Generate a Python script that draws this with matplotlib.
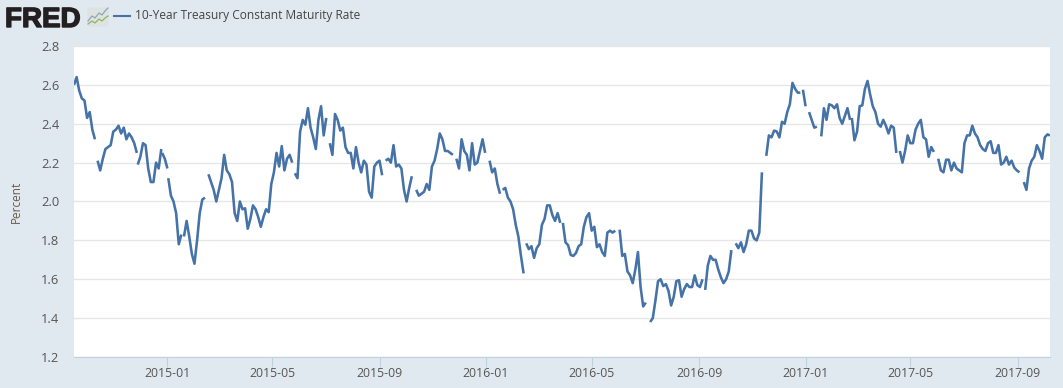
import numpy as np
import pandas as pd
import matplotlib
matplotlib.use("Agg")
import matplotlib.pyplot as plt
import matplotlib.patheffects as pe
from matplotlib.patches import FancyBboxPatch

# each run between market holidays: first date, then a reading every 3 days
seg_starts = ["2014-09-16", "2014-10-13", "2014-11-28", "2014-12-26", "2015-01-02", "2015-01-20",
              "2015-02-17", "2015-05-27", "2015-07-06", "2015-09-08", "2015-10-13", "2015-11-28",
              "2016-01-05", "2016-01-20", "2016-02-16", "2016-03-29", "2016-06-02", "2016-07-07",
              "2016-09-08", "2016-10-13", "2016-11-17", "2016-12-29", "2017-01-05", "2017-01-19",
              "2017-02-23", "2017-04-19", "2017-06-02", "2017-09-08"]
seg_rates = [
    [2.60, 2.64, 2.57, 2.53, 2.52, 2.43, 2.46, 2.37, 2.32],
    [2.21, 2.16, 2.22, 2.27, 2.28, 2.29, 2.36, 2.37, 2.39, 2.35, 2.38, 2.32, 2.35, 2.33, 2.30, 2.25],
    [2.19, 2.23, 2.30, 2.29, 2.17, 2.10, 2.10, 2.20, 2.17, 2.27],
    [2.25, 2.22, 2.17],
    [2.12, 2.03, 2.00, 1.94, 1.78, 1.83],
    [1.82, 1.90, 1.82, 1.73, 1.68, 1.80, 1.94, 2.01, 2.02],
    [2.14, 2.10, 2.06, 2.00, 2.06, 2.12, 2.24, 2.16, 2.14, 2.10, 1.94, 1.90, 2.00, 1.96, 1.965, 1.86,
     1.91, 1.98, 1.96, 1.92, 1.87, 1.92, 1.96, 1.945, 2.09, 2.15, 2.25, 2.18, 2.285, 2.16, 2.22, 2.24, 2.20],
    [2.145, 2.12, 2.36, 2.42, 2.395, 2.48, 2.38, 2.33, 2.27, 2.42, 2.49, 2.34, 2.43],
    [2.30, 2.24, 2.45, 2.42, 2.365, 2.38, 2.28, 2.25, 2.25, 2.17, 2.28, 2.20, 2.15, 2.21, 2.19, 2.05,
     2.02, 2.18, 2.20, 2.21, 2.135],
    [2.21, 2.22, 2.20, 2.29, 2.18, 2.19, 2.17, 2.06, 2.00, 2.07, 2.13],
    [2.06, 2.03, 2.04, 2.05, 2.09, 2.06, 2.18, 2.21, 2.27, 2.35, 2.32, 2.26, 2.26, 2.25, 2.24],
    [2.22, 2.17, 2.32, 2.26, 2.24, 2.16, 2.30, 2.19, 2.20, 2.26, 2.32, 2.25],
    [2.21, 2.15, 2.17, 2.09, 2.04],
    [2.06, 2.07, 2.02, 2.00, 1.96, 1.88, 1.82, 1.72, 1.63],
    [1.785, 1.755, 1.77, 1.71, 1.76, 1.78, 1.88, 1.91, 1.98, 1.98, 1.93, 1.90, 1.94, 1.89],
    [1.89, 1.79, 1.775, 1.725, 1.72, 1.735, 1.77, 1.78, 1.87, 1.92, 1.94, 1.85, 1.87, 1.765, 1.78, 1.74,
     1.72, 1.84, 1.85, 1.84, 1.85],
    [1.855, 1.72, 1.73, 1.64, 1.62, 1.58, 1.65, 1.74, 1.56, 1.46, 1.48],
    [1.38, 1.40, 1.49, 1.59, 1.60, 1.565, 1.575, 1.54, 1.465, 1.51, 1.59, 1.595, 1.51, 1.55, 1.575, 1.56,
     1.56, 1.62, 1.57, 1.56, 1.60],
    [1.545, 1.67, 1.72, 1.70, 1.70, 1.65, 1.61, 1.58, 1.60, 1.64, 1.75],
    [1.785, 1.76, 1.79, 1.74, 1.78, 1.85, 1.85, 1.81, 1.80, 1.84, 2.15],
    [2.235, 2.34, 2.33, 2.365, 2.36, 2.33, 2.41, 2.40, 2.46, 2.50, 2.61, 2.58, 2.56, 2.56],
    [2.575, 2.49],
    [2.46, 2.42, 2.38, 2.385],
    [2.335, 2.48, 2.42, 2.50, 2.495, 2.48, 2.50, 2.43, 2.40, 2.44, 2.48, 2.42],
    [2.43, 2.315, 2.36, 2.49, 2.495, 2.58, 2.62, 2.55, 2.49, 2.46, 2.40, 2.385, 2.42, 2.39, 2.35, 2.39,
     2.38, 2.25],
    [2.26, 2.20, 2.26, 2.34, 2.30, 2.30, 2.37, 2.40, 2.42, 2.33, 2.32, 2.23, 2.28, 2.255],
    [2.22, 2.16, 2.15, 2.215, 2.215, 2.16, 2.20, 2.17, 2.16, 2.15, 2.30, 2.34, 2.34, 2.39, 2.35, 2.33,
     2.29, 2.27, 2.26, 2.30, 2.31, 2.25, 2.25, 2.29, 2.19, 2.20, 2.23, 2.19, 2.21, 2.175, 2.16, 2.15],
    [2.10, 2.06, 2.17, 2.21, 2.23, 2.29, 2.26, 2.22, 2.33, 2.345, 2.34],
]
xticks = ["2015-01", "2015-05", "2015-09", "2016-01", "2016-05", "2016-09", "2017-01", "2017-05", "2017-09"]
yticks = [1.2, 1.4, 1.6, 1.8, 2.0, 2.2, 2.4, 2.6, 2.8]
series_name = "10-Year Treasury Constant Maturity Rate"

W, H = 1063, 388
bg = "#e1e9f0"
blue = "#4572a7"
plt.rcParams["font.family"] = ["Open Sans", "DejaVu Sans"]

fig = plt.figure(figsize=(W / 100, H / 100), dpi=100, facecolor=bg)
ax = fig.add_axes([74 / W, 1 - 357 / H, (1050 - 74) / W, (357 - 46) / H])

for start, vals in zip(seg_starts, seg_rates):
    d = pd.Timestamp(start) + pd.to_timedelta(np.arange(len(vals)) * 3, unit="D")
    ax.plot(d, vals, color=blue, lw=1.85, solid_joinstyle="round", solid_capstyle="butt")

ax.set_xlim(pd.Timestamp("2014-09-16"), pd.Timestamp("2017-10-08"))
ax.set_ylim(1.2, 2.8)
ax.set_xticks([pd.Timestamp(t + "-01") for t in xticks])
ax.set_xticklabels(xticks)
ax.set_yticks(yticks)
ax.set_yticklabels(["%.1f" % v for v in yticks])
ax.grid(axis="y", color="#e6e6e6", lw=1)
ax.set_axisbelow(True)
for s in ["top", "left", "right"]:
    ax.spines[s].set_visible(False)
ax.spines["bottom"].set_color("#c0d0e0")
ax.tick_params(axis="x", length=7.5, width=0.8, color="#c0d0e0", labelsize=8.8, labelcolor="#555555", pad=0)
ax.tick_params(axis="y", length=0, labelsize=9.3, labelcolor="#555555", pad=10.5)
fig.text(16.5 / W, 1 - 202 / H, "Percent", rotation=90, ha="center", va="center", fontsize=8.5, color="#6b5a45")

# header: logo, icon, legend
logo = fig.text(5 / W, 1 - 27 / H, "FRED", fontsize=20, fontweight="bold", family="Liberation Sans",
                color="#231f20", ha="left", va="baseline")
logo.set_path_effects([pe.withStroke(linewidth=1.0, foreground="#231f20")])
icon = fig.add_axes([87 / W, 1 - 27 / H, 22 / W, 20 / H])
icon.set_xlim(0, 22)
icon.set_ylim(0, 20)
icon.axis("off")
icon.add_patch(FancyBboxPatch((0.5, 0.5), 21, 19, boxstyle="round,pad=0,rounding_size=2", fc="#dfe3df", ec="none"))
icon.plot([1, 5, 8, 12, 15, 18, 21], [6, 11, 9, 14, 12, 16, 19], color="#8ea6bd", lw=0.9)
icon.plot([1, 5, 8, 12, 15, 18, 21], [3, 6, 4, 8, 6, 9, 11], color="#8db56a", lw=0.9)
fig.add_artist(plt.Line2D([114 / W, 130 / W], [1 - 16 / H, 1 - 16 / H], color=blue, lw=1.5))
fig.text(135 / W, 1 - 16 / H, series_name, fontsize=8.6, color="#444444", ha="left", va="center")

fig.savefig("out.png", dpi=100, facecolor=bg)
